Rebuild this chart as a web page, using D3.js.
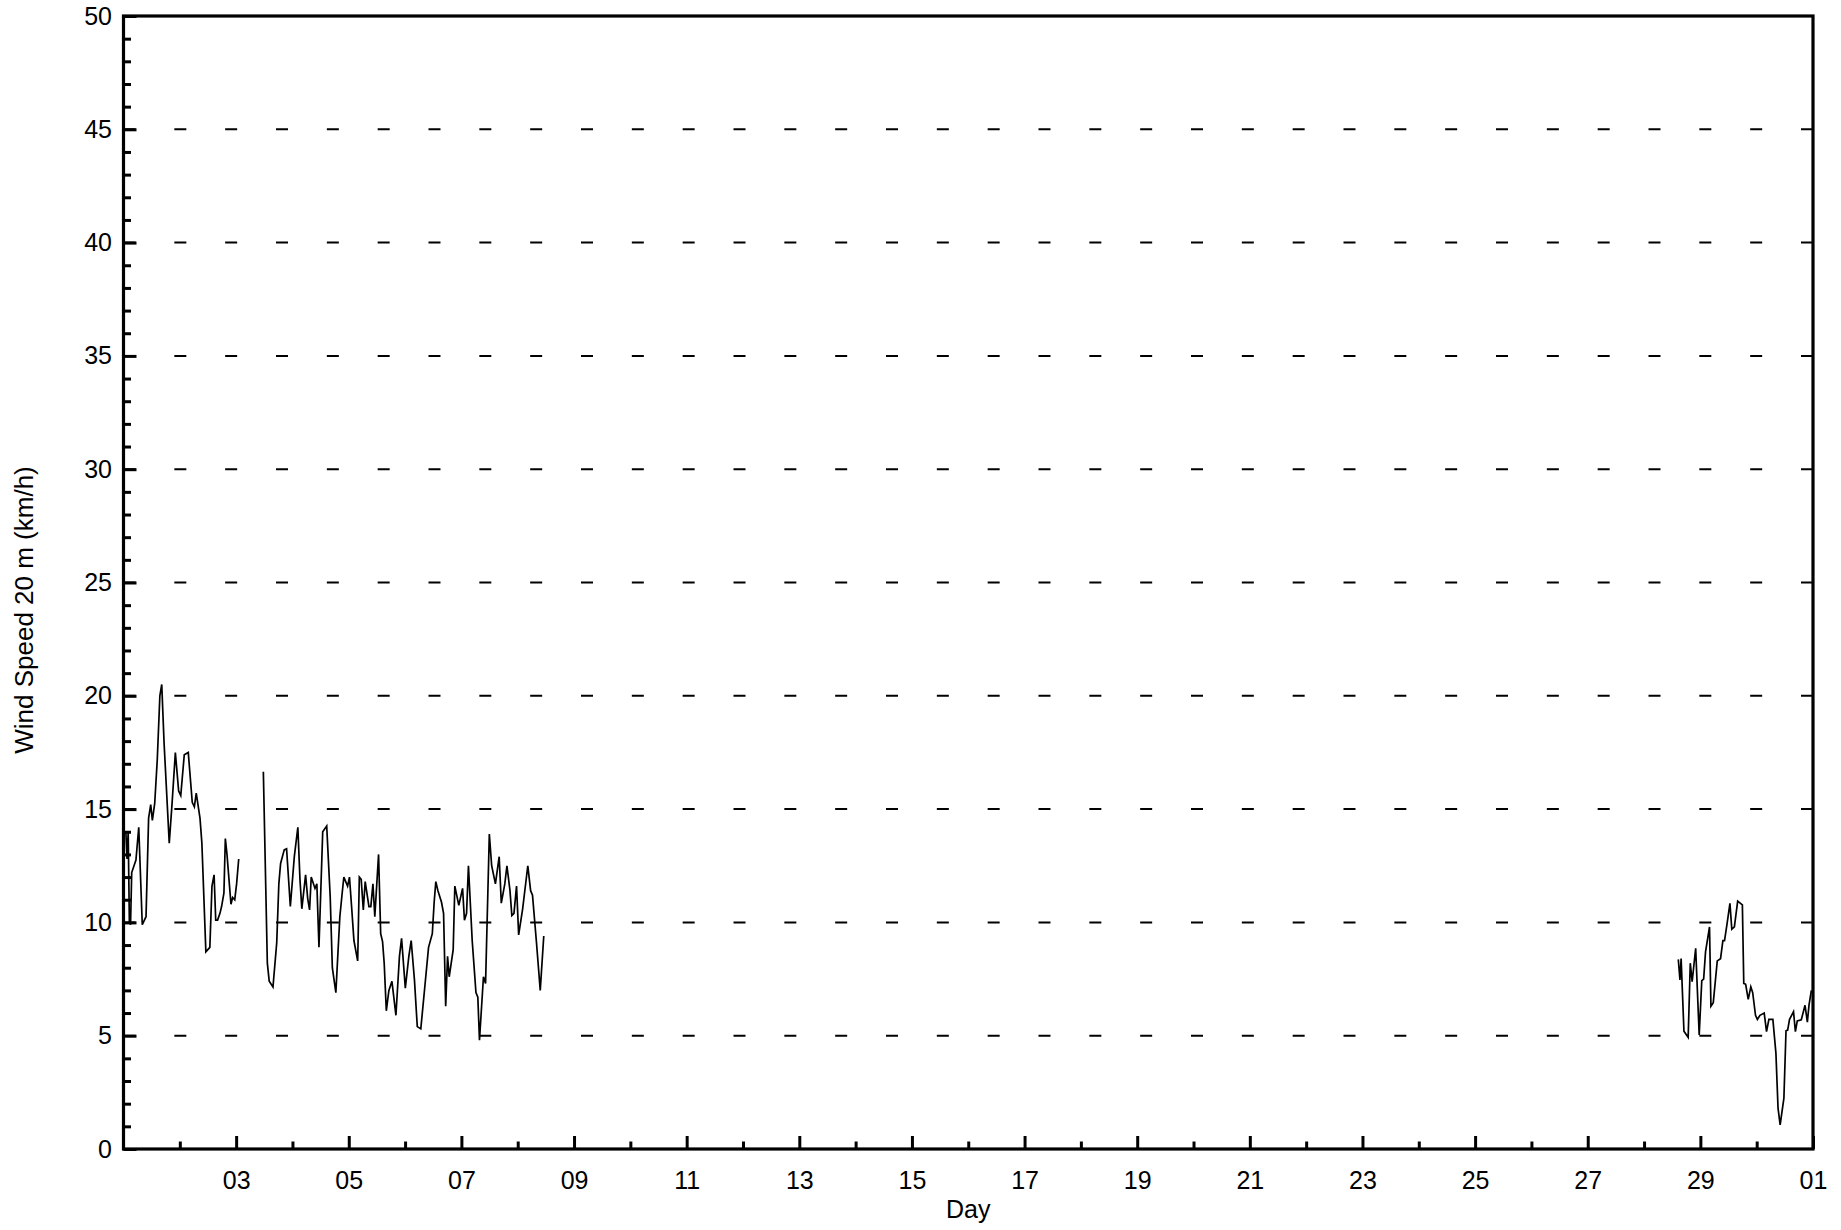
<!DOCTYPE html>
<html>
<head>
<meta charset="utf-8">
<script src="https://cdn.jsdelivr.net/npm/d3@7"></script>
<style>
  html, body { margin: 0; padding: 0; background: #fff; }
  svg { display: block; }
  text { font-family: "Liberation Sans", Arial, sans-serif; fill: #000; }
</style>
</head>
<body>
<svg id="chart" width="1841" height="1230"></svg>
<script>
// ---------------- data ----------------
// Period covered: 1 Nov 2023 00:00 -> 1 Dec 2023 00:00
const periodStart = "2023-11-01T00:00:00";
const periodEnd = "2023-12-01T00:00:00";

// times are hours after periodStart, speeds in km/h
const seg1Hours = [1, 1.5, 2, 2.5, 3, 3.5, 5.3, 6.5, 8, 9.6, 10.7, 11.6, 12.3, 13.3, 14.4, 15.5, 16.3, 17.3, 19.5, 20.7, 22.1, 23.5, 24.4, 25.9, 27.6, 29.3, 30.2, 31, 32.6, 33.4, 35.1, 36.8, 37.7, 38.6, 39.3, 40.1, 41.1, 41.8, 42.8, 43.4, 44.1, 45.8, 46.5, 47.4, 48.2, 49.1];
const seg1Speeds = [14.0, 12.8, 14.0, 10.0, 9.9, 12.2, 12.75, 14.2, 9.9, 10.25, 14.6, 15.2, 14.5, 15.25, 17.2, 20.0, 20.5, 17.9, 13.5, 15.25, 17.5, 15.8, 15.6, 17.4, 17.5, 15.3, 15.1, 15.7, 14.6, 13.5, 8.7, 8.9, 11.6, 12.1, 10.1, 10.1, 10.4, 10.7, 11.3, 13.7, 13.0, 10.8, 11.1, 11.0, 11.7, 12.8];

const seg2Hours = [59.6, 61.3, 62.1, 63.7, 65.3, 66.2, 66.95, 68.5, 69.5, 71.1, 72.8, 74.3, 75.2, 76.0, 77.6, 78.5, 79.3, 80.0, 81.6, 82.4, 83.3, 84.9, 86.6, 88.1, 89.0, 90.5, 92.2, 93.1, 93.9, 95.5, 96.3, 97.2, 98.2, 99.8, 100.5, 101.3, 102.2, 103.0, 104.6, 105.4, 106.3, 107.1, 108.7, 109.6, 110.4, 111.1, 112.0, 113.1, 114.4, 116.1, 117.6, 118.5, 120.1, 121.6, 122.6, 124.0, 125.2, 126.7, 128.4, 130.0, 131.6, 132.4, 133.1, 134.0, 135.5, 136.4, 137.3, 138.1, 138.8, 140.5, 141.2, 142.9, 144.5, 145.3, 146.2, 147.0, 148.6, 150.2, 151.0, 151.7, 153.4, 154.3, 155.9, 156.9, 158.5, 160.1, 161.0, 162.5, 163.4, 164.7, 165.5, 166.4, 167.5, 168.4, 170.1, 172.3, 173.5, 174.3, 176.0, 177.6, 179.1];
const seg2Speeds = [16.65, 8.2, 7.4, 7.15, 9.1, 11.7, 12.6, 13.2, 13.25, 10.7, 12.9, 14.2, 11.9, 10.6, 12.1, 11.05, 10.55, 12.0, 11.5, 11.7, 8.9, 14.0, 14.25, 11.1, 8.0, 6.9, 10.25, 11.2, 12.0, 11.6, 12.0, 10.7, 9.2, 8.3, 12.0, 11.9, 10.55, 11.8, 10.7, 10.7, 11.7, 10.25, 13.0, 9.5, 9.15, 8.2, 6.1, 7.0, 7.4, 5.9, 8.5, 9.3, 7.1, 8.5, 9.2, 7.45, 5.4, 5.3, 7.15, 8.9, 9.5, 10.9, 11.8, 11.4, 10.9, 10.4, 6.3, 8.5, 7.6, 8.8, 11.6, 10.75, 11.5, 10.1, 10.4, 12.5, 9.2, 6.9, 6.7, 4.8, 7.6, 7.3, 13.9, 12.5, 11.7, 12.9, 10.85, 11.7, 12.5, 11.4, 10.3, 10.4, 11.6, 9.45, 10.6, 12.5, 11.4, 11.2, 9.1, 7.0, 9.4];

const seg3Hours = [662.6, 663.3, 663.8, 665.0, 666.8, 667.7, 668.5, 670.0, 671.5, 672.6, 673.4, 674.2, 675.9, 676.5, 677.5, 679.2, 680.6, 681.6, 682.3, 683.4, 684.6, 685.4, 686.5, 687.9, 689.9, 690.5, 691.3, 692.4, 693.5, 694.3, 695.5, 696.3, 697.4, 699.2, 700.2, 701.2, 702.9, 704.2, 705.1, 706.0, 707.6, 708.5, 709.2, 710.0, 711.7, 712.5, 713.3, 715.0, 716.6, 717.6, 718.3, 719.3];
const seg3Speeds = [8.37, 7.46, 8.4, 5.2, 4.93, 8.2, 7.38, 8.86, 5.03, 7.43, 7.5, 8.7, 9.8, 6.3, 6.46, 8.3, 8.4, 9.2, 9.2, 9.96, 10.84, 9.7, 9.8, 10.94, 10.77, 7.31, 7.27, 6.6, 7.16, 6.9, 5.9, 5.72, 5.9, 6.0, 5.18, 5.72, 5.72, 4.22, 1.8, 1.06, 2.24, 5.22, 5.25, 5.72, 6.06, 5.18, 5.65, 5.7, 6.34, 5.6, 6.35, 7.0];

const yMajorTicks = [0, 5, 10, 15, 20, 25, 30, 35, 40, 45, 50];
const yGridValues = [5, 10, 15, 20, 25, 30, 35, 40, 45];
const xLabelDays = ["03", "05", "07", "09", "11", "13", "15", "17", "19", "21", "23", "25", "27", "29", "01"];
const xTitle = "Day";
const yTitle = "Wind Speed 20 m (km/h)";

(function () {
// ---------------- layout ----------------
const svg = d3.select("#chart");
const pLeft = 123.5, pRight = 1813, pTop = 16, pBottom = 1149;
const t0 = new Date(periodStart), t1 = new Date(periodEnd);
const x = d3.scaleTime().domain([t0, t1]).range([pLeft, pRight]);
const y = d3.scaleLinear().domain([0, 50]).range([pBottom, pTop]);
const toDate = h => new Date(t0.getTime() + h * 3600 * 1000);

// gridlines (dashed)
const dashPeriod = (pRight - pLeft - 12) / 33;
svg.append("g").selectAll("line").data(yGridValues).join("line")
  .attr("x1", pLeft).attr("x2", pRight)
  .attr("y1", d => y(d)).attr("y2", d => y(d))
  .attr("stroke", "#000").attr("stroke-width", 2)
  .attr("stroke-dasharray", `12 ${dashPeriod - 12}`);

// data lines
const line = d3.line().x(d => x(d.t)).y(d => y(d.v));
const segments = [[seg1Hours, seg1Speeds], [seg2Hours, seg2Speeds], [seg3Hours, seg3Speeds]]
  .map(([hs, vs]) => hs.map((h, i) => ({ t: toDate(h), v: vs[i] })));
svg.append("g").selectAll("path").data(segments).join("path")
  .attr("d", line).attr("fill", "none").attr("stroke", "#000")
  .attr("stroke-width", 1.7).attr("stroke-linejoin", "miter");

// axes
const fontSize = 25;
const dayTicksAll = d3.timeDay.range(t0, d3.timeDay.offset(t1, 1));
const dayNum = d => +d3.timeFormat("%d")(d);
const majorDays = dayTicksAll.filter(d => dayNum(d) % 2 === 1 && +d > +t0);
const minorDays = dayTicksAll.filter(d => dayNum(d) % 2 === 0);

const xMajor = svg.append("g").attr("transform", `translate(0,${pBottom})`)
  .call(d3.axisBottom(x).tickValues(majorDays).tickSize(-13).tickSizeOuter(0).tickPadding(22)
    .tickFormat((d, i) => xLabelDays[i]));
const xMinor = svg.append("g").attr("transform", `translate(0,${pBottom})`)
  .call(d3.axisBottom(x).tickValues(minorDays).tickSize(-7.5).tickSizeOuter(0).tickFormat(""));

const yMajor = svg.append("g").attr("transform", `translate(${pLeft},0)`)
  .call(d3.axisLeft(y).tickValues(yMajorTicks).tickSize(-13).tickSizeOuter(0).tickPadding(11.5)
    .tickFormat(d3.format("d")));
const yMinor = svg.append("g").attr("transform", `translate(${pLeft},0)`)
  .call(d3.axisLeft(y).tickValues(d3.range(0, 51, 1).filter(v => v % 5 !== 0)).tickSize(-7.5).tickSizeOuter(0).tickFormat(""));

[xMajor, xMinor, yMajor, yMinor].forEach(g => {
  g.select(".domain").remove();
  g.selectAll(".tick line").attr("stroke", "#000").attr("stroke-width", 3);
  g.selectAll(".tick text").attr("font-size", fontSize).attr("font-family", "Liberation Sans, Arial, sans-serif").attr("fill", "#000");
});

// frame
svg.append("rect").attr("x", pLeft).attr("y", pTop)
  .attr("width", pRight - pLeft).attr("height", pBottom - pTop)
  .attr("fill", "none").attr("stroke", "#000").attr("stroke-width", 3.2);

// titles
svg.append("text").attr("x", (pLeft + pRight) / 2).attr("y", 1218)
  .attr("text-anchor", "middle").attr("font-size", 25).text(xTitle);
svg.append("text").attr("transform", `translate(33,610) rotate(-90)`)
  .attr("text-anchor", "middle").attr("font-size", 26).text(yTitle);
})();
</script>
</body>
</html>
